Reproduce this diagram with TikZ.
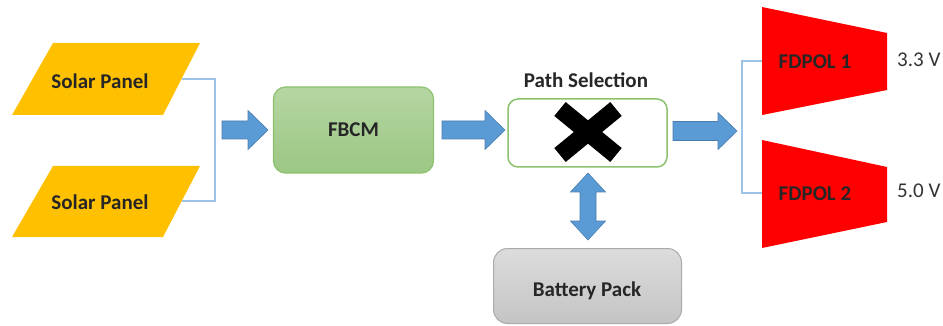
\documentclass[tikz,border=0pt]{standalone}
\usepackage{fontspec}
\setmainfont{Carlito}
\definecolor{solar}{HTML}{FFC000}
\definecolor{arrowblue}{HTML}{5B9BD5}
\definecolor{arrowedge}{HTML}{4A7EB0}
\definecolor{linkblue}{HTML}{9DC3E6}
\definecolor{greentop}{HTML}{B5D6A2}
\definecolor{greenbot}{HTML}{9CC784}
\definecolor{greenedge}{HTML}{8CC26E}
\definecolor{graytop}{HTML}{DCDCDC}
\definecolor{graybot}{HTML}{C4C4C4}
\definecolor{grayedge}{HTML}{ABABAB}
\definecolor{fdred}{HTML}{FF0000}
\begin{document}
\begin{tikzpicture}[x=1pt,y=-1pt,
  lbl/.style={font=\fontsize{21}{25}\selectfont\bfseries, inner sep=0pt, text=black!85},
  vlbl/.style={font=\fontsize{21}{25}\selectfont, inner sep=0pt, anchor=west, text=black!80},
  barrow/.style={fill=arrowblue, draw=arrowedge, line width=0.6pt},
  bracket/.style={draw=linkblue, line width=1.2pt},
  solarshape/.style={fill=solar},
  fdshape/.style={fill=fdred}]
\useasboundingbox (0,0) rectangle (943,326);

% Solar panels
\fill[solarshape] (53,43) -- (200,43) -- (163,115) -- (12,115) -- cycle;
\fill[solarshape] (53,166) -- (200,166) -- (163,237) -- (12,237) -- cycle;
\node[lbl] (sp1) at (100,81) {Solar Panel};
\node[lbl] (sp2) at (100,202) {Solar Panel};

% bracket joining panels
\coordinate (b1) at (182,79);
\coordinate (b2) at (182,201);
\draw[bracket] (b1) -- (215,79) -- (215,201) -- (b2);

% arrow to FBCM
\path[barrow] (222,121) -- (248,121) -- (248,110.5) -- (268,130) -- (248,149.5) -- (248,139) -- (222,139) -- cycle;

% FBCM
\node[rounded corners=12pt, top color=greentop, bottom color=greenbot, draw=greenedge, line width=1.2pt,
      minimum width=160pt, minimum height=86pt, inner sep=0pt] (fbcm) at (353.5,130) {};
\node[lbl] (fbcmt) at (fbcm.center) {FBCM};

% arrow to path selection
\path[barrow] (442,121) -- (485,121) -- (485,110.5) -- (505,130) -- (485,149.5) -- (485,139) -- (442,139) -- cycle;

% Path selection
\node[rounded corners=10pt, fill=white, draw=greenedge, line width=1.5pt,
      minimum width=159pt, minimum height=68pt, inner sep=0pt] (ps) at (587.5,133) {};
\node[lbl] (pst) at (586,80) {Path Selection};
\draw[line width=18pt, black] (560,109) -- (616,155);
\draw[line width=18pt, black] (616,109) -- (560,155);

% double arrow to battery
\path[barrow] (588,173) -- (605.5,192) -- (596,192) -- (596,221) -- (605.5,221) -- (588,240)
   -- (570.5,221) -- (580,221) -- (580,192) -- (570.5,192) -- cycle;

% Battery pack
\node[rounded corners=14pt, top color=graytop, bottom color=graybot, draw=grayedge, line width=1pt,
      minimum width=188pt, minimum height=75pt, inner sep=0pt] (bat) at (587.5,286) {};
\node[lbl] (batt) at (587,291) {Battery Pack};

% arrow to outputs
\path[barrow] (673,121.5) -- (718,121.5) -- (718,112.5) -- (737,131) -- (718,149.5) -- (718,140.5) -- (673,140.5) -- cycle;

% bracket to FDPOLs
\coordinate (c1) at (762,61);
\coordinate (c2) at (762,193);
\draw[bracket] (c1) -- (742,61) -- (742,193) -- (c2);

% FDPOLs
\fill[fdshape] (762,7) -- (887,33) -- (887,90) -- (762,115) -- cycle;
\fill[fdshape] (762,140) -- (887,167) -- (887,222) -- (762,248) -- cycle;
\node[lbl] (fd1) at (815,62) {FDPOL 1};
\node[lbl] (fd2) at (815,194) {FDPOL 2};
\node[vlbl] (v1) at (897,60) {3.3 V};
\node[vlbl] (v2) at (897,191) {5.0 V};
\end{tikzpicture}
\end{document}
